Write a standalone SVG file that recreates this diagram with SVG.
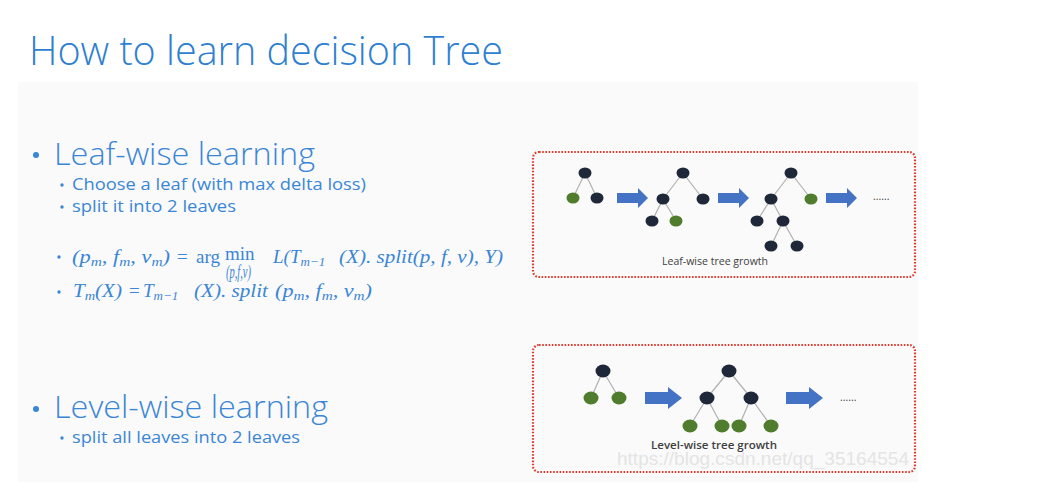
<svg xmlns="http://www.w3.org/2000/svg" xmlns:xlink="http://www.w3.org/1999/xlink" width="1056" height="491" viewBox="0 0 1056 491">
<style>
.title{font-family:"Open Sans","Liberation Sans",sans-serif;font-weight:300;fill:#2f7fd1}
.h{font-family:"Open Sans","Liberation Sans",sans-serif;font-weight:300;font-size:31px;fill:#3a86d6}
.s{font-family:"Open Sans","Liberation Sans",sans-serif;font-size:15.5px;fill:#3a86d6}
.m{font-family:"Liberation Serif",serif;font-style:italic;font-size:19px;fill:#3a86d6}
.mu{font-family:"Liberation Serif",serif;font-size:19px;fill:#3a86d6}
.dot{fill:#3a86d6}
.box{fill:none;stroke:#e03a2e;stroke-width:2.2;stroke-dasharray:1.6 1.6}
.d{fill:#1e2838}
.g{fill:#4f7c2d}
.e{stroke:#b0b0b0;stroke-width:1.2;fill:none}
.lbl{font-family:"Open Sans","Liberation Sans",sans-serif;font-size:10.5px;fill:#404040}
.arrow{fill:#4472c4}
</style>
<defs>
<path id="arrS" d="M0,-5 H21 V-10 L31,0 L21,10 V5 H0 Z"/>
<path id="arrL" d="M0,-6 H23 V-11 L37,0 L23,11 V6 H0 Z"/>
</defs>
<rect width="1056" height="491" fill="#ffffff"/>
<rect x="18" y="82" width="900" height="400" fill="#fafafa"/>

<g id="title"><text class="title" x="29" y="65" font-size="39.5" textLength="474" lengthAdjust="spacingAndGlyphs">How to learn decision Tree</text></g>

<g id="leafwise-text">
<circle class="dot" cx="36" cy="155" r="3"/>
<text class="h" x="54" y="165" textLength="261" lengthAdjust="spacingAndGlyphs">Leaf-wise learning</text>
<circle class="dot" cx="62" cy="185" r="1.7"/>
<text class="s" x="72" y="190" textLength="294" lengthAdjust="spacingAndGlyphs">Choose a leaf (with max delta loss)</text>
<circle class="dot" cx="62" cy="207" r="1.7"/>
<text class="s" x="72" y="212" textLength="164" lengthAdjust="spacingAndGlyphs">split it into 2 leaves</text>
<circle class="dot" cx="59" cy="257" r="1.7"/>
<text class="m" x="72" y="263" textLength="98" lengthAdjust="spacingAndGlyphs">(p<tspan font-size="13" dy="3">m</tspan><tspan dy="-3">, f</tspan><tspan font-size="13" dy="3">m</tspan><tspan dy="-3">, v</tspan><tspan font-size="13" dy="3">m</tspan><tspan dy="-3">)</tspan></text>
<text class="mu" x="177" y="263">=</text>
<text class="mu" x="196" y="263">arg</text>
<text class="mu" x="225" y="260" font-size="17">min</text>
<text class="m" x="226" y="278" font-size="11" textLength="25" lengthAdjust="spacingAndGlyphs">(p,f,v)</text>
<text class="m" x="273" y="263">L(T<tspan font-size="13" dy="3">m−1</tspan></text>
<text class="m" x="339" y="263" textLength="164" lengthAdjust="spacingAndGlyphs">(X). split(p, f, v), Y)</text>
<circle class="dot" cx="59" cy="292" r="1.7"/>
<text class="m" x="73" y="297" textLength="49" lengthAdjust="spacingAndGlyphs">T<tspan font-size="13" dy="3">m</tspan><tspan dy="-3">(X)</tspan></text>
<text class="mu" x="129" y="297">=</text>
<text class="m" x="143" y="297">T<tspan font-size="13" dy="3">m−1</tspan></text>
<text class="m" x="194" y="297" textLength="74" lengthAdjust="spacingAndGlyphs">(X). split</text>
<text class="m" x="275" y="297" textLength="97" lengthAdjust="spacingAndGlyphs">(p<tspan font-size="13" dy="3">m</tspan><tspan dy="-3">, f</tspan><tspan font-size="13" dy="3">m</tspan><tspan dy="-3">, v</tspan><tspan font-size="13" dy="3">m</tspan><tspan dy="-3">)</tspan></text>
</g>

<g id="levelwise-text">
<circle class="dot" cx="36" cy="409" r="3"/>
<text class="h" x="54" y="418" textLength="274" lengthAdjust="spacingAndGlyphs">Level-wise learning</text>
<circle class="dot" cx="62" cy="438" r="1.7"/>
<text class="s" x="72" y="443" textLength="228" lengthAdjust="spacingAndGlyphs">split all leaves into 2 leaves</text>
</g>

<g id="leafwise-box">
<rect class="box" x="533" y="152" width="382" height="125" rx="6"/>
<text class="lbl" x="715" y="265" text-anchor="middle" textLength="106" lengthAdjust="spacingAndGlyphs">Leaf-wise tree growth</text>
<text class="lbl" x="873" y="200" font-size="10">......</text>
</g>
<g id="levelwise-box">
<rect class="box" x="533" y="345" width="382" height="127" rx="6"/>
<text class="lbl" x="714" y="449" text-anchor="middle" font-size="12" font-weight="600" fill="#303030" textLength="126" lengthAdjust="spacingAndGlyphs">Level-wise tree growth</text>
<text class="lbl" x="840" y="401" font-size="10">......</text>
</g>

<g id="connectors">
<path class="e" d="M585,173 L573,198 M585,173 L597,198"/>
<path class="e" d="M683,173 L663,199 M683,173 L703,199 M663,199 L652,221 M663,199 L676,221"/>
<path class="e" d="M791,173 L771,199 M791,173 L811,199 M771,199 L757,221 M771,199 L783,221 M783,221 L771,246 M783,221 L797,246"/>
<path class="e" d="M603,371 L591,398 M603,371 L619,398"/>
<path class="e" d="M729,371 L707,398 M729,371 L751,398 M707,398 L690,426 M707,398 L722,426 M751,398 L739,426 M751,398 L771,426"/>
<use href="#arrS" class="arrow" x="617" y="198"/>
<use href="#arrS" class="arrow" x="718" y="198"/>
<use href="#arrS" class="arrow" x="826" y="198"/>
<use href="#arrL" class="arrow" x="645" y="398"/>
<use href="#arrL" class="arrow" x="786" y="398"/>
</g>

<g id="leaf-t1"><ellipse class="d" cx="585" cy="173" rx="6.5" ry="5.5"/><ellipse class="g" cx="573" cy="198" rx="6.5" ry="5.5"/><ellipse class="d" cx="597" cy="198" rx="6.5" ry="5.5"/></g>
<g id="leaf-t2"><ellipse class="d" cx="683" cy="173" rx="6.5" ry="5.5"/><ellipse class="d" cx="663" cy="199" rx="6.5" ry="5.5"/><ellipse class="d" cx="703" cy="199" rx="6.5" ry="5.5"/><ellipse class="d" cx="652" cy="221" rx="6.5" ry="5.5"/><ellipse class="g" cx="676" cy="221" rx="6.5" ry="5.5"/></g>
<g id="leaf-t3"><ellipse class="d" cx="791" cy="173" rx="6.5" ry="5.5"/><ellipse class="d" cx="771" cy="199" rx="6.5" ry="5.5"/><ellipse class="g" cx="811" cy="199" rx="6.5" ry="5.5"/><ellipse class="d" cx="757" cy="221" rx="6.5" ry="5.5"/><ellipse class="d" cx="783" cy="221" rx="6.5" ry="5.5"/><ellipse class="d" cx="771" cy="246" rx="6.5" ry="5.5"/><ellipse class="d" cx="797" cy="246" rx="6.5" ry="5.5"/></g>
<g id="level-t1"><ellipse class="d" cx="603" cy="371" rx="7.5" ry="6.5"/><ellipse class="g" cx="591" cy="398" rx="7.5" ry="6.5"/><ellipse class="g" cx="619" cy="398" rx="7.5" ry="6.5"/></g>
<g id="level-t2"><ellipse class="d" cx="729" cy="371" rx="7.5" ry="6.5"/><ellipse class="d" cx="707" cy="398" rx="7.5" ry="6.5"/><ellipse class="d" cx="751" cy="398" rx="7.5" ry="6.5"/><ellipse class="g" cx="690" cy="426" rx="7.5" ry="6.5"/><ellipse class="g" cx="722" cy="426" rx="7.5" ry="6.5"/><ellipse class="g" cx="739" cy="426" rx="7.5" ry="6.5"/><ellipse class="g" cx="771" cy="426" rx="7.5" ry="6.5"/></g>

<g id="watermark"><text x="617" y="465" font-family="Liberation Sans,sans-serif" font-size="17.5" fill="#e4e4e4" textLength="292" lengthAdjust="spacingAndGlyphs">https://blog.csdn.net/qq_35164554</text></g>
</svg>
